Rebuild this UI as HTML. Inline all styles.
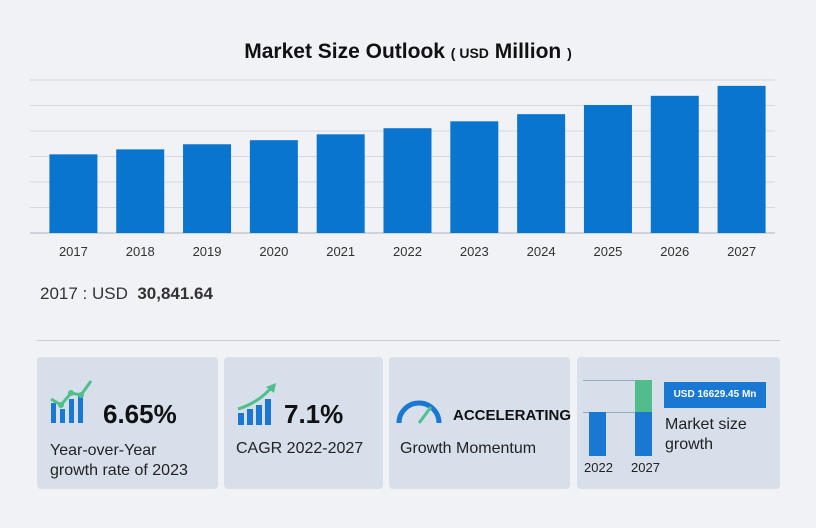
<!DOCTYPE html>
<html><head><meta charset="utf-8"><style>
body{margin:0;width:816px;height:528px;background:#f1f2f6;font-family:"Liberation Sans",sans-serif;position:relative;overflow:hidden}
.abs{position:absolute}
.card{position:absolute;top:357px;height:132px;background:#d7dfea;border-radius:4px}
.big{font-weight:bold;font-size:26px;color:#111}
.lbl{font-size:16px;color:#222;line-height:20px}
</style></head><body>
<div class="abs" style="left:0;width:816px;top:40px;text-align:center;font-size:21px;font-weight:bold;color:#111">Market Size Outlook <span style="font-size:14px">( USD</span> Million <span style="font-size:14px">)</span></div>
<svg class="abs" style="left:0;top:0" width="816" height="270" id="chart"></svg>
<div class="abs" style="left:40px;top:284px;font-size:17px;color:#333">2017 : USD &nbsp;<b style="color:#333">30,841.64</b></div>
<div class="abs" style="left:37px;top:340px;width:743px;height:1px;background:#c8ccd4"></div>

<div class="card" style="left:37px;width:181px">
 <svg class="abs" style="left:12px;top:20px" width="50" height="48">
  <rect x="2" y="26" width="5" height="20" fill="#1a78d2"/><rect x="11" y="32" width="5" height="14" fill="#1a78d2"/><rect x="20" y="22" width="5" height="24" fill="#1a78d2"/><rect x="29" y="18" width="5" height="28" fill="#1a78d2"/>
  <polyline points="2,22 12,28 22,16 32,18 42,4" fill="none" stroke="#4fbf8c" stroke-width="3"/>
  <circle cx="12" cy="28" r="3" fill="#4fbf8c"/><circle cx="22" cy="16" r="3" fill="#4fbf8c"/><circle cx="32" cy="18" r="3" fill="#4fbf8c"/>
 </svg>
 <div class="abs big" style="left:66px;top:42px">6.65%</div>
 <div class="abs lbl" style="left:13px;top:84px">Year-over-Year<br>growth rate of 2023</div>
</div>
<div class="card" style="left:224px;width:159px">
 <svg class="abs" style="left:12px;top:26px" width="45" height="44">
  <rect x="2" y="30" width="6" height="12" fill="#1a78d2"/><rect x="11" y="26" width="6" height="16" fill="#1a78d2"/><rect x="20" y="22" width="6" height="20" fill="#1a78d2"/><rect x="29" y="16" width="6" height="26" fill="#1a78d2"/>
  <path d="M2 26 Q22 20 36 4" fill="none" stroke="#4fbf8c" stroke-width="3"/><polygon points="30,4 40,0 38,10" fill="#4fbf8c"/>
 </svg>
 <div class="abs big" style="left:60px;top:42px">7.1%</div>
 <div class="abs lbl" style="left:12px;top:82px">CAGR 2022-2027</div>
</div>
<div class="card" style="left:389px;width:181px">
 <svg class="abs" style="left:6px;top:36px" width="50" height="32">
  <path d="M4 30 A20 20 0 0 1 44 30" fill="none" stroke="#1a78d2" stroke-width="5"/>
  <line x1="24" y1="30" x2="36" y2="14" stroke="#4fbf8c" stroke-width="3"/>
 </svg>
 <div class="abs" style="left:64px;top:50px;font-weight:bold;font-size:15px;color:#111">ACCELERATING</div>
 <div class="abs lbl" style="left:11px;top:82px">Growth Momentum</div>
</div>
<div class="card" style="left:577px;width:203px">
 <div class="abs" style="left:6px;top:23px;width:55px;height:1px;background:#9aa8bb"></div>
 <div class="abs" style="left:6px;top:55px;width:55px;height:1px;background:#9aa8bb"></div>
 <div class="abs" style="left:12px;top:55px;width:17px;height:44px;background:#1a78d2"></div>
 <div class="abs" style="left:58px;top:55px;width:17px;height:44px;background:#1a78d2"></div>
 <div class="abs" style="left:58px;top:23px;width:17px;height:32px;background:#52bd8c"></div>
 <div class="abs" style="left:7px;top:103px;font-size:13px;color:#222">2022</div>
 <div class="abs" style="left:54px;top:103px;font-size:13px;color:#222">2027</div>
 <div class="abs" style="left:87px;top:25px;width:102px;height:26px;background:#1a78d2;color:#fff;font-size:10px;font-weight:bold;line-height:26px;text-align:center">USD 16629.45 Mn</div>
 <div class="abs lbl" style="left:88px;top:58px">Market size<br>growth</div>
</div>
<script>
const years=["2017","2018","2019","2020","2021","2022","2023","2024","2025","2026","2027"];
const values=[30841.64,32800,34800,36400,38700,41100,43800,46600,50200,53800,57700];
const ticks=[0,10000,20000,30000,40000,50000,60000];
const svg=document.getElementById('chart');const NS='http://www.w3.org/2000/svg';
const x0=40,x1=775,base=233,top_=80,maxV=60000;
const y=v=>base-(v/maxV)*(base-top_);
const step=(x1-x0)/years.length;
ticks.forEach(t=>{const l=document.createElementNS(NS,'line');


l.setAttribute('x1',30);l.setAttribute('x2',x1);l.setAttribute('y1',y(t));l.setAttribute('y2',y(t));
l.setAttribute('stroke',t===0?'#aab2c0':'#d4d8e0');l.setAttribute('stroke-width',1);svg.appendChild(l);});
years.forEach((yr,i)=>{const cx=x0+step*(i+0.5);const r=document.createElementNS(NS,'rect');


r.setAttribute('x',cx-24);r.setAttribute('width',48);r.setAttribute('y',y(values[i]));r.setAttribute('height',base-y(values[i]));r.setAttribute('fill','#0a75cf');svg.appendChild(r);
const t=document.createElementNS(NS,'text');


t.setAttribute('x',cx);t.setAttribute('y',256);t.setAttribute('text-anchor','middle');t.setAttribute('font-size','13');t.setAttribute('fill','#333');t.setAttribute('font-family','Liberation Sans, sans-serif');t.textContent=yr;svg.appendChild(t);});
</script>
</body></html>
